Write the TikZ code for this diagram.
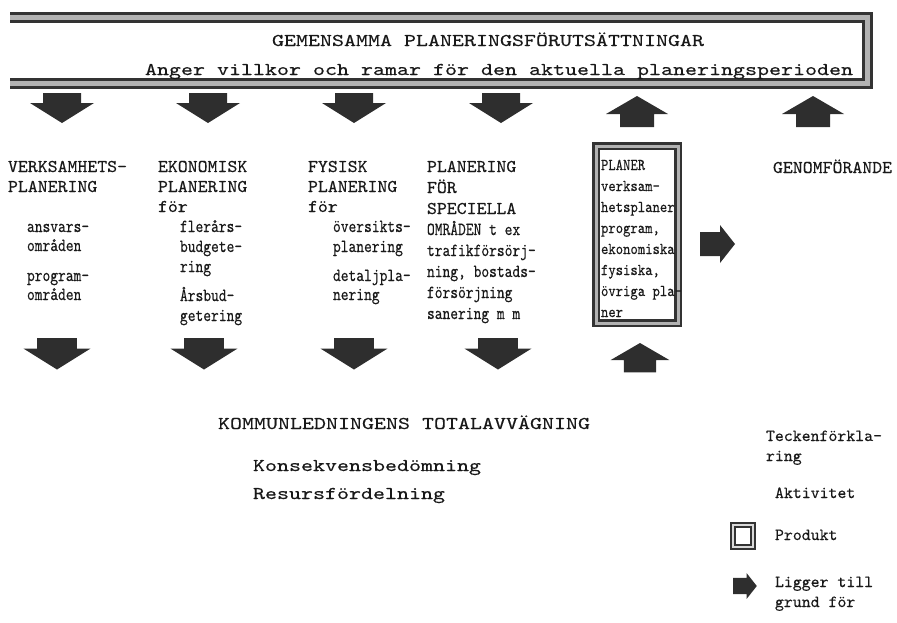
\documentclass[tikz,border=0pt]{standalone}
\usepackage{fontspec}
\newfontfamily\bigfont[FakeStretch=1.27,FakeBold=0.3]{lmmono10-regular.otf}
\newfontfamily\headfont[FakeStretch=1.05,FakeBold=0.3]{lmmono10-regular.otf}
\newfontfamily\condfont[FakeStretch=0.8,FakeBold=0.3]{lmmono10-regular.otf}
\newfontfamily\boxfont[FakeStretch=0.85,FakeBold=0.3]{lmmono10-regular.otf}
\newfontfamily\legfont[FakeBold=0.3]{lmmono10-regular.otf}
\tikzset{
  arrowfill/.style={fill=black!82},
  frame/.style={line width=3, draw=black!80, double=black!30, double distance=5, line join=miter},
  prodframe/.style={line width=2.5, draw=black!80, double=black!30, double distance=3, line join=miter},
  legframe/.style={line width=2, draw=black!80, double=black!15, double distance=2, line join=miter},
  txt/.style={anchor=base west, inner sep=0, outer sep=0, text=black!90},
  big/.style={txt, font=\bigfont\fontsize{18}{20}\selectfont},
  head/.style={txt, font=\headfont\fontsize{18}{20}\selectfont},
  sub/.style={txt, font=\condfont\fontsize{18.5}{20}\selectfont},
  boxtxt/.style={txt, font=\boxfont\fontsize{16.5}{20}\selectfont},
  legend/.style={txt, font=\legfont\fontsize{17}{20}\selectfont},
  pics/dnarrow/.style={code={\fill[arrowfill] (-19,0) -- (19,0) -- (19,10) -- (32,10) -- (0,30) -- (-32,10) -- (-19,10) -- cycle;}},
  pics/uparrow/.style={code={\fill[arrowfill] (0,0) -- (31,18) -- (17,18) -- (17,31) -- (-17,31) -- (-17,18) -- (-31,18) -- cycle;}},
  pics/rtarrow/.style={code={\fill[arrowfill] (0,-12) -- (20,-12) -- (20,-19) -- (35,0) -- (20,19) -- (20,12) -- (0,12) -- cycle;}}
}
\begin{document}
\begin{tikzpicture}[x=1pt,y=-1pt]
\useasboundingbox (0,0) rectangle (897,622);
% top frame (open on the left)
\draw[frame] (10,17.5) -- (867.5,17.5) -- (867.5,83.5) -- (10,83.5);
\node[big] (gem1) at (272,46) {GEMENSAMMA PLANERINGSFÖRUTSÄTTNINGAR};
\node[big] (gem2) at (145,75) {Anger villkor och ramar för den aktuella planeringsperioden};
% top arrows
\pic at (62,93) {dnarrow};
\pic at (208,93) {dnarrow};
\pic at (354,93) {dnarrow};
\pic at (501,93) {dnarrow};
\pic at (637,96) {uparrow};
\pic at (813,96) {uparrow};
% column 1
\foreach \n/\y/\t in {1/172/{VERKSAMHETS-},2/192/{PLANERING}}
  \node[head] (ca\n) at (8,\y) {\t};
\foreach \n/\y/\t in {1/232/{ansvars-},2/251/{områden},3/281/{program-},4/300/{områden}}
  \node[sub] (cas\n) at (27,\y) {\t};
% column 2
\foreach \n/\y/\t in {1/172/{EKONOMISK},2/192/{PLANERING},3/212/{för}}
  \node[head] (cb\n) at (158,\y) {\t};
\foreach \n/\y/\t in {1/232/{flerårs-},2/252/{budgete-},3/272/{ring},4/301/{Årsbud-},5/321/{getering}}
  \node[sub] (cbs\n) at (180,\y) {\t};
% column 3
\foreach \n/\y/\t in {1/172/{FYSISK},2/192/{PLANERING},3/212/{för}}
  \node[head] (cc\n) at (308,\y) {\t};
\foreach \n/\y/\t in {1/232/{översikts-},2/252/{planering},3/281/{detaljpla-},4/300/{nering}}
  \node[sub] (ccs\n) at (333,\y) {\t};
% column 4
\foreach \n/\y/\t in {1/172/{PLANERING},2/193/{FÖR},3/214/{SPECIELLA}}
  \node[head] (cd\n) at (427,\y) {\t};
\foreach \n/\y/\t in {4/235/{OMRÅDEN t ex},5/256/{trafikförsörj-},6/277/{ning, bostads-},7/298/{försörjning},8/319/{sanering m m}}
  \node[sub] (cd\n) at (427,\y) {\t};
% PLANER box
\draw[prodframe] (596,146) rectangle (678,323);
\foreach \n/\y/\t in {1/170/{PLANER},2/191/{verksam-},3/212/{hetsplaner},4/233/{program,},5/254/{ekonomiska},6/275/{fysiska,},7/296/{övriga pla-},8/317/{ner}}
  \node[boxtxt] (pl\n) at (601,\y) {\t};
\pic at (700,244) {rtarrow};
\node[head] (genom) at (773,173) {GENOMFÖRANDE};
% bottom arrows
\pic[scale=1.05] at (57,338) {dnarrow};
\pic[scale=1.05] at (204,338) {dnarrow};
\pic[scale=1.05] at (354,338) {dnarrow};
\pic[scale=1.05] at (498,338) {dnarrow};
\pic[scale=0.95] at (640,343) {uparrow};
% bottom texts
\node[big] (komm) at (218,429) {KOMMUNLEDNINGENS TOTALAVVÄGNING};
\node[big] (kons) at (253,471) {Konsekvensbedömning};
\node[big] (res) at (253,499) {Resursfördelning};
% legend
\node[legend] (teck1) at (766,441) {Teckenförkla-};
\node[legend] (teck2) at (766,461) {ring};
\node[legend] (akt) at (775,498) {Aktivitet};
\draw[legframe] (733,525) rectangle (753,547);
\node[legend] (prod) at (775,540) {Produkt};
\pic[scale=0.68] at (733,586) {rtarrow};
\node[legend] (lig1) at (775,587) {Ligger till};
\node[legend] (lig2) at (775,607) {grund för};
\end{tikzpicture}
\end{document}
